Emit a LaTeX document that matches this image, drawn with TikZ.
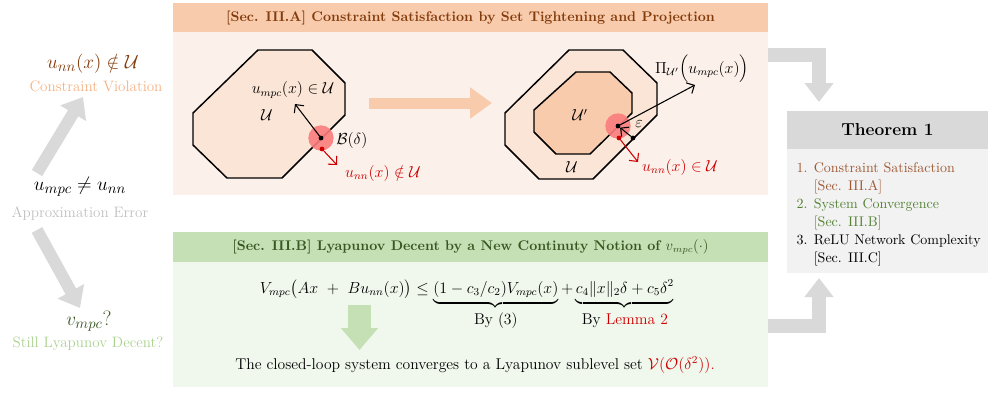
\documentclass[tikz,border=0pt]{standalone}
\usepackage{amsmath,amssymb}
\usepackage{xcolor}
\usepackage{tikz}
\usetikzlibrary{positioning,arrows.meta,calc}
\definecolor{orangehead}{RGB}{248,203,173}
\definecolor{orangebody}{RGB}{252,241,234}
\definecolor{orangeset}{RGB}{251,229,214}
\definecolor{orangedark}{RGB}{132,60,12}
\definecolor{orangelight}{RGB}{244,177,131}
\definecolor{itembrown}{RGB}{157,88,50}
\definecolor{greenhead}{RGB}{197,224,180}
\definecolor{greenbody}{RGB}{240,247,236}
\definecolor{greendark}{RGB}{56,87,35}
\definecolor{greenlight}{RGB}{169,209,142}
\definecolor{itemgreen}{RGB}{84,130,53}
\definecolor{grayarrow}{RGB}{217,217,217}
\definecolor{graybody}{RGB}{242,242,242}
\definecolor{graytext}{RGB}{191,191,191}
\definecolor{deepred}{RGB}{204,0,0}
\definecolor{diskred}{RGB}{250,125,125}
\newcommand{\bracedepth}{\rule[-4pt]{0pt}{4pt}}
\tikzset{
  paneltitle/.style={font=\fontsize{10.5}{12}\selectfont\bfseries},
  bodytext/.style={font=\fontsize{11.7}{13}\selectfont},
  sidetext/.style={font=\fontsize{11.3}{13}\selectfont},
  sidemath/.style={font=\fontsize{15.5}{17}\selectfont},
  diagmath/.style={font=\fontsize{11.5}{13}\selectfont},
  setline/.style={draw=black, line width=1.1pt, line join=miter},
  dotnode/.style={circle, fill=black, inner sep=0pt, minimum size=3.6pt},
  reddot/.style={dotnode, fill=deepred},
  redball/.style={circle, fill=diskred, fill opacity=0.9, inner sep=0pt, minimum size=19pt},
  thinarrow/.style={-{Straight Barb[length=1.6mm]}, line width=0.8pt},
  redarrow/.style={thinarrow, draw=deepred},
  grayblock/.style={draw=grayarrow, line width=10pt, line join=miter, -{Triangle[length=14.25pt,width=21pt]}},
  sideblock/.style={draw=grayarrow, line width=9pt, -{Triangle[length=14.25pt,width=21.75pt]}},
  orangeblock/.style={draw=orangehead, line width=8.25pt, -{Triangle[length=16.5pt,width=22.5pt]}},
  greenblock/.style={draw=greenhead, line width=17.25pt, -{Triangle[length=16.5pt,width=27pt]}},
}
\begin{document}
\begin{tikzpicture}[x=0.75pt,y=-0.75pt]
  \useasboundingbox (0,0) rectangle (996,393);

  % Panels
  \fill[orangebody] (173,32) rectangle (768,195);
  \fill[orangehead] (173,3) rectangle (768,32);
  \fill[greenbody] (173,262) rectangle (768,387);
  \fill[greenhead] (173,232) rectangle (768,262);
  \fill[graybody] (787,149) rectangle (988,273);
  \fill[grayarrow] (787,111) rectangle (988,149);

  \node[paneltitle, text=orangedark] (titleA) at (470.5,17.5)
    {[Sec. III.A] Constraint Satisfaction by Set Tightening and Projection};
  \node[paneltitle, text=greendark] (titleB) at (470.5,247)
    {[Sec. III.B] Lyapunov Decent by a New Continuty Notion of $v_{mpc}(\cdot)$};
  \node[font=\fontsize{13}{15}\selectfont\bfseries] (thmtitle) at (887.5,130) {Theorem 1};

  % Left side
  \node[sidemath, text=orangedark] (unnout) at (93,64) {$u_{nn}(x)\notin\mathcal{U}$};
  \node[sidetext, text=orangelight] (violation) at (96,86) {Constraint Violation};
  \node[sidemath] (mismatch) at (80,187) {$u_{mpc}\neq u_{nn}$};
  \node[sidetext, text=graytext] (approx) at (80,214) {Approximation Error};
  \node[sidemath, text=greendark] (vmpc) at (89,321) {$v_{mpc}$?};
  \node[sidetext, text=greenlight] (stilllyap) at (88,344) {Still Lyapunov Decent?};

  \coordinate (upfrom) at (37,173);
  \coordinate (upto) at (83,97);
  \coordinate (downfrom) at (37,230);
  \coordinate (downto) at (80,308);
  \draw[sideblock] (upfrom) -- (upto);
  \draw[sideblock] (downfrom) -- (downto);

  % Set U and the violation
  \draw[setline, fill=orangeset] (258,50) -- (312,50) -- (345,83) -- (345,115)
    -- (282,178) -- (227,178) -- (193,145) -- (193,113) -- cycle;
  \node[redball] (ballA) at (321,138) {};
  \node[dotnode] (mpcdotA) at (321,138) {};
  \node[reddot] (nndotA) at (322,149) {};
  \node[diagmath] (mpcinA) at (293,90) {$u_{mpc}(x)\in\mathcal{U}$};
  \node[diagmath] (setA) at (267,115) {$\mathcal{U}$};
  \node[diagmath] (balllabel) at (352,140) {$\mathcal{B}(\delta)$};
  \node[diagmath, text=deepred] (nnoutA) at (383,173) {$u_{nn}(x)\notin\mathcal{U}$};
  \coordinate (mpctipA) at (295,104);
  \coordinate (nntipA) at (337,165);
  \draw[thinarrow] (mpcdotA) -- (mpctipA);
  \draw[redarrow] (nndotA) -- (nntipA);

  \coordinate (lightfrom) at (369,103);
  \coordinate (lightto) at (492,103);
  \draw[orangeblock] (lightfrom) -- (lightto);

  % Tightened set U' and the projection
  \draw[setline, fill=orangeset] (569,50) -- (623,50) -- (657,83) -- (657,115)
    -- (593,179) -- (539,179) -- (505,145) -- (505,113) -- cycle;
  \draw[setline, fill=orangehead] (576,72) -- (610,72) -- (632,93) -- (632,113)
    -- (590,154) -- (556,154) -- (534,132) -- (534,110) -- cycle;
  \node[redball] (ballB) at (618,126) {};
  \node[dotnode] (projdot) at (618,126) {};
  \node[dotnode] (outerdot) at (633,138) {};
  \node[reddot] (nndotB) at (619,138) {};
  \node[diagmath] (setinner) at (580,115) {$\mathcal{U}'$};
  \node[diagmath] (setouter) at (572,167) {$\mathcal{U}$};
  \node[diagmath] (epslabel) at (639,124) {$\varepsilon$};
  \node[diagmath, text=deepred] (nninB) at (680,167) {$u_{nn}(x)\in\mathcal{U}$};
  \node[diagmath] (projlabel) at (702,69) {$\Pi_{\mathcal{U}'}\Big(u_{mpc}(x)\Big)$};
  \coordinate (projtip) at (695,85);
  \coordinate (nntipB) at (638,162);
  \draw[thinarrow] (projdot) -- (projtip);
  \draw[thinarrow] (outerdot) -- (projdot);
  \draw[redarrow] (nndotB) -- (nntipB);

  % Lyapunov decent
  \node[bodytext, anchor=base] (lyapeq) at (467,293)
    {$V_{mpc}\big(Ax\ +\ Bu_{nn}(x)\big)\le
      \underbrace{(1-c_3/c_2)V_{mpc}(x)\bracedepth}_{\mbox{\rule{0pt}{10pt}By (3)}}
      + \underbrace{c_4\|x\|_2\delta + c_5\delta^2\bracedepth}_{\mbox{\rule{0pt}{10pt}By \textcolor{deepred}{Lemma 2}}}$};
  \coordinate (greenfrom) at (359.5,305);
  \coordinate (greento) at (359.5,350);
  \draw[greenblock] (greenfrom) -- (greento);
  \node[bodytext] (converge) at (475,365)
    {The closed-loop system converges to a Lyapunov sublevel set
     \textcolor{deepred}{$\mathcal{V}(\mathcal{O}(\delta^2))$.}};

  % Theorem
  \node[anchor=north west, align=left, font=\fontsize{10.5}{13.5}\selectfont]
    (thmitems) at (792,158)
    {\textcolor{itembrown}{1. Constraint Satisfaction}\\
     \textcolor{itembrown}{\phantom{1. }[Sec. III.A]}\\
     \textcolor{itemgreen}{2. System Convergence}\\
     \textcolor{itemgreen}{\phantom{2. }[Sec. III.B]}\\
     3. ReLU Network Complexity\\
     \phantom{3. }[Sec. III.C]};

  \coordinate (outA) at (768,55);
  \coordinate (inthmA) at (819,102);
  \coordinate (outB) at (768,326);
  \coordinate (inthmB) at (819,278);
  \draw[grayblock] (outA) -| (inthmA);
  \draw[grayblock] (outB) -| (inthmB);
\end{tikzpicture}
\end{document}
